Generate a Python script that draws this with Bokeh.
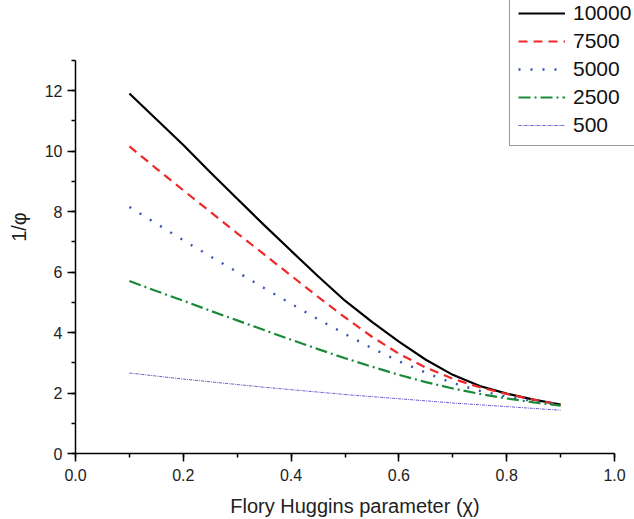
from bokeh.plotting import figure
from bokeh.models import SingleIntervalTicker, Range1d, Legend, LegendItem, PrintfTickFormatter
from bokeh.embed import file_html
from bokeh.resources import INLINE

chi = [0.1, 0.15, 0.2, 0.25, 0.3, 0.35, 0.4, 0.45, 0.5, 0.55, 0.6, 0.65, 0.7, 0.75, 0.8, 0.85, 0.9]
n10000 = [11.9, 11.05, 10.2, 9.3, 8.42, 7.55, 6.7, 5.86, 5.05, 4.35, 3.7, 3.1, 2.6, 2.23, 1.98, 1.78, 1.62]
n7500 = [10.15, 9.42, 8.7, 7.99, 7.28, 6.58, 5.88, 5.18, 4.5, 3.86, 3.3, 2.84, 2.47, 2.19, 1.97, 1.78, 1.61]
n5000 = [8.15, 7.6, 7.05, 6.52, 6.0, 5.47, 4.95, 4.44, 3.95, 3.48, 3.05, 2.67, 2.33, 2.07, 1.88, 1.73, 1.6]
n2500 = [5.7, 5.37, 5.05, 4.72, 4.4, 4.08, 3.76, 3.45, 3.15, 2.87, 2.6, 2.36, 2.15, 1.97, 1.82, 1.69, 1.58]
n500 = [2.66, 2.56, 2.46, 2.37, 2.28, 2.19, 2.11, 2.03, 1.95, 1.88, 1.81, 1.74, 1.67, 1.61, 1.55, 1.49, 1.43]
labels = ["10000", "7500", "5000", "2500", "500"]

FONT = "Liberation Sans"

# frame spans to the canvas top/right so the legend is not clipped;
# axis bounds keep the drawn axes at x 0..1 and y 0..13
p = figure(width=634, height=519, output_backend="svg", toolbar_location=None,
           x_range=Range1d(0, 559 / 539), y_range=Range1d(0, 453 / 30.25),
           min_border_left=75, min_border_right=0, min_border_top=0, min_border_bottom=66)
p.outline_line_color = None
p.xgrid.visible = False
p.ygrid.visible = False

styles = [
    dict(color="#000000", width=2.2, dash="solid"),
    dict(color="#f02828", width=2.2, dash="9 6"),
    dict(color="#3550b8", width=2.4, dash="2 10"),
    dict(color="#1a8a3a", width=2.2, dash="12 4 2 4"),
    dict(color="#6a5acd", width=1.0, dash="3 1 1 1"),
]
series = [n10000, n7500, n5000, n2500, n500]
items = []
for lab, ys, st in zip(labels, series, styles):
    r = p.line(chi, ys, line_color=st["color"], line_width=st["width"], line_dash=st["dash"])
    items.append(LegendItem(label=lab, renderers=[r]))

legend = Legend(items=items, location=(434, 307))
legend.label_text_font = FONT
legend.label_text_font_size = "21px"
legend.label_text_color = "#111111"
legend.glyph_width = 47
legend.glyph_height = 22
legend.label_height = 22
legend.spacing = 4
legend.padding = 8
legend.margin = 0
legend.label_standoff = 8
legend.border_line_color = "#333333"
legend.border_line_width = 1.2
legend.background_fill_alpha = 1
p.add_layout(legend, "center")

for ax in (p.xaxis[0], p.yaxis[0]):
    ax.axis_line_width = 1.5
    ax.major_tick_line_width = 1.5
    ax.minor_tick_line_width = 1.5
    ax.major_tick_out = 8
    ax.major_tick_in = 0
    ax.minor_tick_out = 4
    ax.minor_tick_in = 0
    ax.major_label_text_font = FONT
    ax.major_label_text_font_size = "16px"
    ax.major_label_text_color = "#222222"
    ax.axis_label_text_font = FONT
    ax.axis_label_text_font_size = "20px"
    ax.axis_label_text_font_style = "normal"
    ax.axis_label_text_color = "#222222"
    ax.major_label_standoff = 5

p.xaxis[0].major_label_standoff = 7
p.xaxis[0].ticker = SingleIntervalTicker(interval=0.2, num_minor_ticks=2)
p.yaxis[0].ticker = SingleIntervalTicker(interval=2, num_minor_ticks=2)
p.xaxis[0].formatter = PrintfTickFormatter(format="%.1f")
p.yaxis[0].formatter = PrintfTickFormatter(format="%d")
p.xaxis[0].bounds = (0, 1)
p.yaxis[0].bounds = (0, 13)
p.xaxis[0].axis_label = "Flory Huggins parameter (\u03c7)"
p.yaxis[0].axis_label = "1/\u03c6"
p.xaxis[0].axis_label_standoff = 11
p.yaxis[0].axis_label_standoff = 12

open("out.html", "w").write(file_html(p, INLINE))
